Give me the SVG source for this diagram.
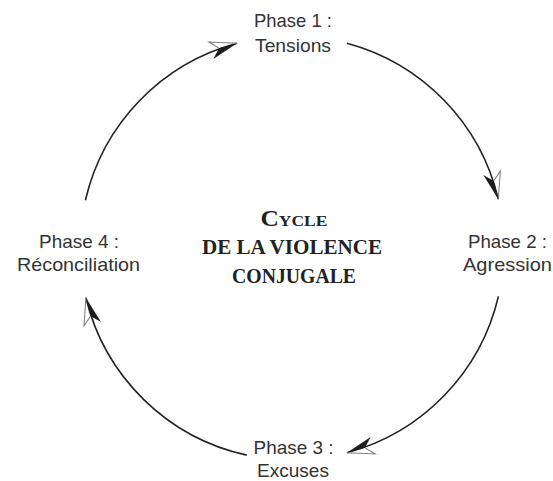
<svg xmlns="http://www.w3.org/2000/svg" width="553" height="481" viewBox="0 0 553 481">
  <defs>
    <style>
      .lbl { font-family: "Liberation Sans", Arial, sans-serif; font-size: 19px; fill: #333333; text-anchor: middle; }
      .ttl { font-family: "Liberation Serif", "Times New Roman", serif; font-weight: bold; fill: #222222; text-anchor: middle; }
      .arc { fill: none; stroke: #222222; stroke-width: 1.6; }
    </style>
    <marker id="arrow" markerUnits="userSpaceOnUse" markerWidth="40" markerHeight="30" refX="0" refY="0" viewBox="-30 -15 40 30" orient="auto" overflow="visible">
      <path d="M0,0 L-27,9 L-19,0.5 Z" fill="#1e1e1e"/>
      <path d="M-19,0 L-27,-8.5 L0,0" fill="none" stroke="#7a7a7a" stroke-width="1"/>
    </marker>
  </defs>
  <rect width="553" height="481" fill="#ffffff"/>

  <g id="connectors">
    <path class="arc" d="M85.4,200.3 A212,212 0 0 1 237.1,43.2" marker-end="url(#arrow)"/>
    <path class="arc" d="M346.9,43.2 A212,212 0 0 1 498.3,199.2" marker-end="url(#arrow)"/>
    <path class="arc" d="M498.4,296.4 A212,212 0 0 1 346.9,452.8" marker-end="url(#arrow)"/>
    <path class="arc" d="M246.8,455.1 A212,212 0 0 1 85.9,297.8" marker-end="url(#arrow)"/>
  </g>

  <g id="title">
    <text class="ttl" x="294" y="226" textLength="67" lengthAdjust="spacingAndGlyphs"><tspan font-size="22.5">C</tspan><tspan font-size="15.5">YCLE</tspan></text>
    <text class="ttl" x="292" y="254" font-size="22" textLength="180" lengthAdjust="spacingAndGlyphs">DE LA VIOLENCE</text>
    <text class="ttl" x="294" y="283" font-size="22" textLength="124" lengthAdjust="spacingAndGlyphs">CONJUGALE</text>
  </g>

  <g id="phase1">
    <text class="lbl" x="293" y="26.5" textLength="78" lengthAdjust="spacingAndGlyphs">Phase 1 :</text>
    <text class="lbl" x="293" y="51.5" textLength="76" lengthAdjust="spacingAndGlyphs">Tensions</text>
  </g>
  <g id="phase2">
    <text class="lbl" x="507.5" y="248" textLength="79" lengthAdjust="spacingAndGlyphs">Phase 2 :</text>
    <text class="lbl" x="507.5" y="271" textLength="89" lengthAdjust="spacingAndGlyphs">Agression</text>
  </g>
  <g id="phase3">
    <text class="lbl" x="293.5" y="454" textLength="80" lengthAdjust="spacingAndGlyphs">Phase 3 :</text>
    <text class="lbl" x="293" y="477" textLength="72" lengthAdjust="spacingAndGlyphs">Excuses</text>
  </g>
  <g id="phase4">
    <text class="lbl" x="79" y="248" textLength="80" lengthAdjust="spacingAndGlyphs">Phase 4 :</text>
    <text class="lbl" x="78.5" y="271" textLength="123" lengthAdjust="spacingAndGlyphs">Réconciliation</text>
  </g>
</svg>
